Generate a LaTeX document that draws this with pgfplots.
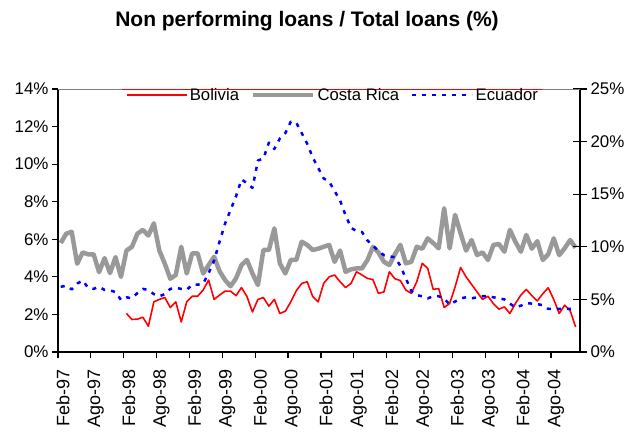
\documentclass[border=0pt]{standalone}
\usepackage{pgfplots}
\pgfplotsset{compat=1.18}
\usepackage{pgfplotstable}
\usepackage{fontspec}
\setmainfont{Liberation Sans}
\definecolor{crgray}{RGB}{153,153,153}

\pgfplotstableread{
i v
0 5.8
1 6.3
2 6.4
3 4.7
4 5.3
5 5.2
6 5.2
7 4.25
8 5.0
9 4.2
10 5.05
11 4.0
12 5.4
13 5.6
14 6.3
15 6.5
16 6.2
17 6.85
18 5.4
19 4.7
20 3.9
21 4.1
22 5.6
23 4.18
24 5.25
25 5.25
26 4.18
27 4.63
28 5.07
29 4.3
30 3.83
31 3.5
32 3.92
33 4.63
34 4.9
35 4.18
36 3.56
37 5.43
38 5.43
39 6.58
40 4.72
41 4.18
42 4.9
43 4.9
44 5.87
45 5.7
46 5.43
47 5.5
48 5.6
49 5.7
50 4.8
51 5.4
52 4.27
53 4.4
54 4.45
55 4.45
56 4.9
57 5.6
58 5.3
59 4.8
60 4.63
61 5.2
62 5.7
63 4.72
64 4.8
65 5.6
66 5.5
67 6.05
68 5.8
69 5.52
70 7.65
71 5.52
72 7.3
73 6.32
74 5.4
75 5.96
76 5.16
77 5.3
78 4.9
79 5.7
80 5.75
81 5.34
82 6.5
83 5.87
84 5.34
85 6.23
86 5.5
87 5.9
88 4.9
89 5.2
90 6.05
91 5.16
92 5.52
93 5.96
94 5.55
}\costarica

\pgfplotstableread{
i v
12 2.05
13 1.73
14 1.75
15 1.85
16 1.37
17 2.67
18 2.8
19 2.9
20 2.37
21 2.67
22 1.6
23 2.67
24 2.97
25 2.97
26 3.3
27 3.83
28 2.8
29 3.03
30 3.24
31 3.24
32 3.0
33 3.43
34 2.95
35 2.13
36 2.8
37 2.9
38 2.44
39 2.8
40 2.05
41 2.17
42 2.67
43 3.26
44 3.65
45 3.74
46 2.95
47 2.67
48 3.65
49 4.0
50 4.1
51 3.74
52 3.43
53 3.65
54 4.27
55 4.1
56 3.92
57 3.85
58 3.12
59 3.2
60 4.27
61 3.9
62 3.8
63 3.3
64 3.12
65 3.74
66 4.72
67 4.45
68 3.33
69 3.38
70 2.37
71 2.58
72 3.47
73 4.5
74 4.0
75 3.6
76 3.2
77 2.8
78 2.97
79 2.57
80 2.28
81 2.4
82 2.05
83 2.58
84 3.03
85 3.33
86 3.0
87 2.72
88 3.1
89 3.42
90 2.8
91 2.05
92 2.49
93 2.2
94 1.33
}\bolivia

\pgfplotstableread{
i v
0 6.2
1 6.3
2 5.95
3 6.5
4 6.8
5 6.1
6 6.0
7 6.2
8 5.9
9 5.85
10 5.7
11 4.95
12 5.2
13 5.1
14 5.6
15 6.0
16 5.9
17 5.5
18 5.3
19 5.5
20 6.0
21 6.1
22 6.0
23 5.9
24 6.4
25 6.4
26 6.5
27 7.5
28 8.7
29 10.5
30 12.2
31 13.5
32 14.8
33 16.4
34 16.05
35 15.6
36 18.2
37 18.4
38 19.9
39 19.3
40 20.3
41 20.8
42 21.9
43 21.8
44 20.8
45 19.8
46 18.5
47 17.5
48 16.5
49 16.2
50 15.3
51 14.4
52 13.0
53 11.8
54 11.5
55 11.4
56 10.6
57 10.1
58 9.6
59 9.2
60 9.1
61 9.0
62 8.2
63 7.0
64 5.8
65 5.4
66 5.3
67 5.1
68 5.3
69 5.3
70 5.1
71 4.5
72 4.8
73 5.1
74 5.2
75 5.1
76 5.2
77 5.3
78 5.3
79 5.2
80 5.1
81 5.0
82 4.6
83 4.25
84 4.4
85 4.65
86 4.6
87 4.55
88 4.45
89 4.1
90 4.1
91 4.1
92 4.1
93 4.1
94 4.1
}\ecuador

\pgfplotsset{
  common/.style={
    scale only axis, width=522pt, height=263pt,
    at={(0pt,0pt)}, anchor=south west,
    xmin=0, xmax=95.3,
    /pgf/number format/assume math mode=true,
    ticklabel style={font=\fontsize{16.9}{20}\selectfont},
    every axis plot/.append style={line join=round},
  }
}

\begin{document}
\begin{tikzpicture}
\useasboundingbox (-58pt,-80pt) rectangle (579pt,352pt);
\begin{axis}[common,
  ymin=0, ymax=14,
  axis x line*=bottom, axis y line*=left,
  axis line style={black, line width=1.5pt},
  ytick={0,2,...,14},
  yticklabel={\pgfmathprintnumber{\tick}\%},
  xtick={0,6,...,90},
  xticklabels={},
  extra x ticks={0.9,6.9,12.9,18.9,24.9,30.9,36.9,42.9,48.9,54.9,60.9,66.9,72.9,78.9,84.9,90.9},
  extra x tick labels={Feb-97,Ago-97,Feb-98,Ago-98,Feb-99,Ago-99,Feb-00,Ago-00,Feb-01,Ago-01,Feb-02,Ago-02,Feb-03,Ago-03,Feb-04,Ago-04},
  extra x tick style={major tick length=0pt, tick style={draw=none},
    xticklabel style={rotate=90, anchor=east, font=\fontsize{18}{21}\selectfont}, xticklabel shift=14pt},
  tick align=outside,
  major tick length=6pt,
  tick style={black, line width=1.2pt},
]
\addplot[crgray, line width=4.5pt, no markers] table[x expr=\thisrow{i}+0.5, y=v] {\costarica};
\addplot[red, line width=1.6pt, no markers] table[x expr=\thisrow{i}+0.5, y=v] {\bolivia};
\end{axis}
\begin{axis}[common,
  ymin=0, ymax=25,
  axis x line=none, axis y line*=right,
  axis line style={black, line width=1.5pt},
  ytick={0,5,...,25},
  yticklabel={\pgfmathprintnumber{\tick}\%},
  tick align=center, major tick length=14pt,
  tick style={black, line width=1.2pt},
  legend columns=3,
  legend image code/.code={\draw[#1] (0pt,0pt) -- (60pt,0pt);},
  legend style={draw=none, fill=none, at={(0.527,0.977)}, anchor=center,
    font=\fontsize{16.7}{20}\selectfont,
    /tikz/every even column/.append style={column sep=10pt}},
]
\addlegendimage{red, line width=1.6pt}
\addlegendentry{Bolivia}
\addlegendimage{crgray, line width=4.5pt}
\addlegendentry{Costa Rica}
\addplot[blue, line width=2.5pt, dash pattern=on 4pt off 6pt, no markers] table[x expr=\thisrow{i}+0.5, y=v] {\ecuador};
\addlegendentry{Ecuador}
\draw[gray, line width=1.5pt] (rel axis cs:0,1) -- (rel axis cs:1,1);
\draw[red, line width=1.5pt] (rel axis cs:0.1226,1) -- (rel axis cs:0.927,1);
\end{axis}
\node[anchor=base, font=\bfseries\fontsize{21}{25}\selectfont] at (249pt,325pt) {Non performing loans / Total loans (\%)};
\end{tikzpicture}
\end{document}
